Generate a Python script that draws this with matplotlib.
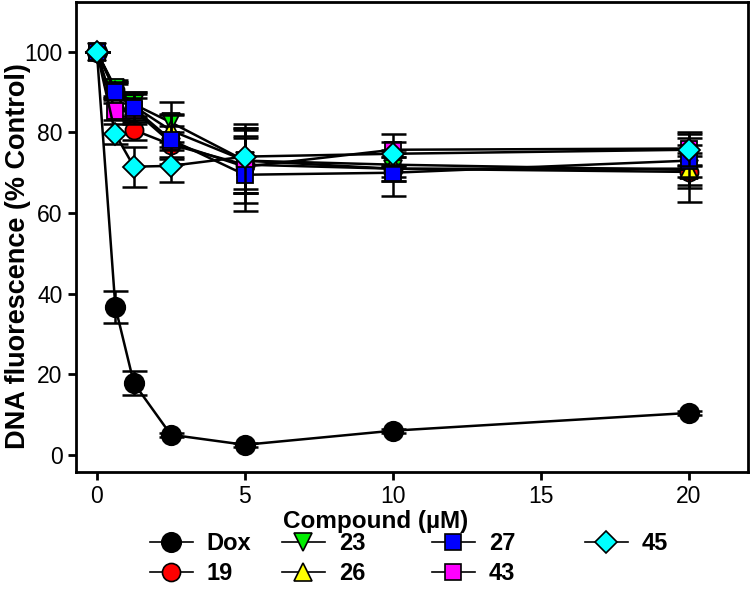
import matplotlib
matplotlib.use("Agg")
import matplotlib.pyplot as plt
from matplotlib.lines import Line2D
import numpy as np

plt.rcParams['font.family'] = ['Liberation Sans', 'DejaVu Sans']

# concentrations (uM)
conc = [0, 0.625, 1.25, 2.5, 5, 10, 20]

# DNA fluorescence (% control)
dox = [100, 36.7, 17.8, 5.0, 2.5, 6.0, 10.4]
dox_err = [0, 4.0, 3.0, 0.5, 0.5, 0.5, 0.5]
c19 = [100, 90.5, 80.6, 77.0, 72.0, 71.0, 70.2]
c19_err = [0, 2.0, 2.5, 3.0, 7.0, 3.0, 4.0]
c23 = [100, 91.0, 87.0, 82.5, 73.0, 71.0, 71.0]
c23_err = [0, 2.0, 3.0, 5.0, 8.0, 3.0, 4.0]
c26 = [100, 90.5, 86.5, 80.5, 73.0, 72.0, 70.7]
c26_err = [0, 2.0, 3.0, 4.0, 8.0, 3.0, 8.0]
c27 = [100, 90.0, 86.0, 78.2, 69.5, 70.0, 73.0]
c27_err = [0, 2.0, 4.0, 6.0, 9.0, 5.7, 4.0]
c43 = [100, 85.2, 85.5, 77.5, 71.5, 75.7, 76.0]
c43_err = [0, 2.0, 3.0, 4.0, 9.0, 4.0, 4.0]
c45 = [100, 79.6, 71.5, 71.7, 74.0, 74.7, 75.7]
c45_err = [0, 2.5, 5.0, 4.0, 8.0, 3.0, 4.0]

series = [
    ("Dox", dox, dox_err, 'o', 'black', 14),
    ("19", c19, c19_err, 'o', 'red', 13),
    ("23", c23, c23_err, 'v', '#00ee00', 13),
    ("26", c26, c26_err, '^', 'yellow', 13),
    ("27", c27, c27_err, 's', 'blue', 11),
    ("43", c43, c43_err, 's', 'magenta', 11),
    ("45", c45, c45_err, 'D', 'cyan', 11),
]
# drawing order (43 sits under 27 in the original)
draw_order = [0, 1, 2, 3, 5, 4, 6]

fig = plt.figure(figsize=(7.51, 6.08), dpi=100)
ax = fig.add_axes([0.101, 0.224, 0.895, 0.773])

for i in draw_order:
    name, vals, err, mk, col, ms = series[i]
    ax.errorbar(conc, vals, yerr=err, color='black', lw=1.8, ecolor='black',
                elinewidth=1.8, capsize=9, capthick=1.8, fmt='none')
    ax.plot(conc, vals, color='black', lw=1.8, marker=mk, ms=ms,
            mfc=col, mec='black', mew=1.3)

handles = []
for name, vals, err, mk, col, ms in series:
    handles.append(Line2D([], [], color='black', lw=1.2, marker=mk, ms=ms,
                          mfc=col, mec='black', mew=1.2, label=name))

ax.set_xlim(-0.71, 22.0)
ax.set_ylim(-4.2, 112.4)
ax.set_xticks([0, 5, 10, 15, 20])
ax.set_yticks([0, 20, 40, 60, 80, 100])
ax.tick_params(axis='both', direction='out', length=6, width=2, labelsize=16.5,
               top=False, right=False)
for sp in ax.spines.values():
    sp.set_linewidth(2)

ax.set_xlabel("Compound (µM)", fontsize=17.5, fontweight='bold')
ax.set_ylabel("DNA fluorescence (% Control)", fontsize=19.5, fontweight='bold')
ax.xaxis.set_label_coords(0.446, -0.081)
ax.yaxis.set_label_coords(-0.066, 0.46)

# legend laid out in four columns under the axis
cols = [(handles[0:2], 150), (handles[2:4], 282), (handles[4:6], 432), (handles[6:7], 585)]
for hs, x0 in cols:
    fig.legend(handles=hs, loc='upper left', bbox_to_anchor=(x0 / 751, 1 - 532 / 608),
               frameon=False, borderpad=0, borderaxespad=0,
               handlelength=1.8, handletextpad=0.6, labelspacing=0.3,
               prop={'weight': 'bold', 'size': 17})

fig.savefig("out.png", dpi=100)
